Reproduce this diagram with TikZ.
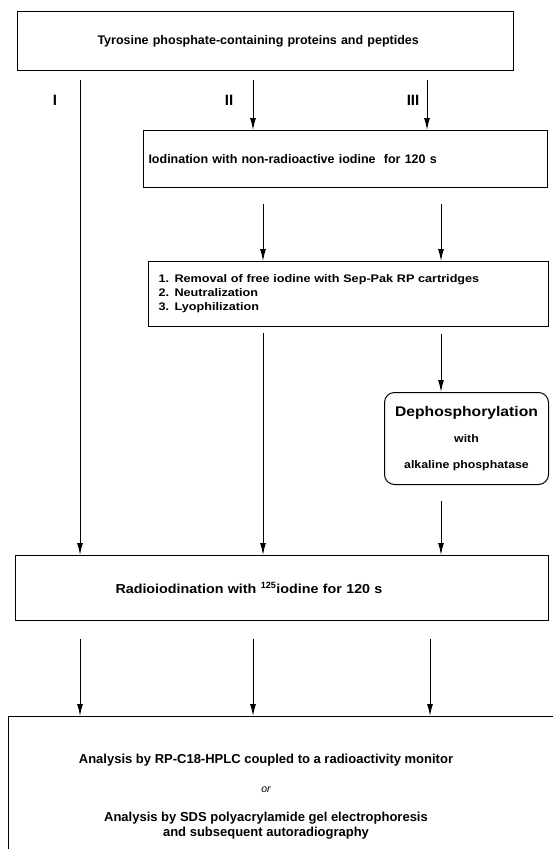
\documentclass[tikz,border=0pt]{standalone}
\usepackage{fontspec}
\setmainfont{Liberation Sans}
\usetikzlibrary{arrows.meta, positioning}

\begin{document}
\begin{tikzpicture}[x=1pt, y=-1pt,
  font=\bfseries\fontsize{12.5}{15}\selectfont,
  % step = plain rectangle, placed by its top left corner
  stepbox/.style={rectangle, draw=black, line width=1pt, anchor=north west, inner sep=0pt},
  % enzyme step = rounded rectangle
  enzbox/.style={stepbox, rounded corners=10pt, align=center},
  lane/.style={font=\bfseries\fontsize{15}{15}\selectfont},
  arrow/.style={line width=1pt, -{Latex[length=12pt, width=6pt]}}
]
\useasboundingbox (0,0) rectangle (552,849);

% ---- Column positions ----
\coordinate (colI) at (80,0);
\coordinate (colII) at (253,0);
\coordinate (colIIb) at (263,0);
\coordinate (colIII) at (427,0);
\coordinate (colIIIb) at (441,0);

% ---- Steps ----
\node[stepbox, minimum width=496pt, minimum height=59pt, text width=336pt, inner xsep=80pt, align=left] (src) at (17,11)
  {Tyrosine phosphate-containing proteins and peptides};
\node[stepbox, minimum width=404pt, minimum height=57pt, text width=394pt, inner xsep=5pt, align=left] (iod) at (143,130)
  {Iodination with non-radioactive iodine\ \ for 120 s};
\node[stepbox, minimum width=400pt, minimum height=65pt, text width=380pt, inner xsep=10pt, align=left,
  font=\bfseries\fontsize{11}{14}\selectfont\addfontfeatures{FakeStretch=1.15}] (rem) at (148,261)
  {1. Removal of free iodine with Sep-Pak RP cartridges\\2. Neutralization\\3. Lyophilization};
\node[enzbox, minimum width=164pt, minimum height=92pt,
  font=\bfseries\fontsize{11}{14}\selectfont\addfontfeatures{FakeStretch=1.12}] (dephos) at (384,392)
  {{\fontsize{14}{15}\selectfont Dephosphorylation}\\[12pt]with\\[12pt]alkaline phosphatase};
\node[stepbox, minimum width=533pt, minimum height=65pt, text width=333pt, inner xsep=100pt, align=left,
  font=\bfseries\fontsize{13}{15}\selectfont\addfontfeatures{FakeStretch=1.1}] (radio) at (15,555)
  {Radioiodination with $^{\mathbf{125}}$iodine for 120 s};
\node[stepbox, minimum width=600pt, minimum height=200pt] (anal) at (8,716) {};
\node[align=center, anchor=north, font=\bfseries\fontsize{13}{15}\selectfont] (analtext) at (266,751)
  {Analysis by RP-C18-HPLC coupled to a radioactivity monitor\\[14pt]
   {\mdseries\itshape\fontsize{10.5}{14}\selectfont or}\\[14pt]
   Analysis by SDS polyacrylamide gel electrophoresis\\and subsequent autoradiography};

% ---- Lane labels ----
\node[lane] (lI) at (55,100) {I};
\node[lane] (lII) at (229,100) {II};
\node[lane] (lIII) at (413,100) {III};

% ---- Lane I ----
\draw[arrow, shorten <=9pt] (src.south -| colI) -- (radio.north -| colI);

% ---- Lane II ----
\draw[arrow, shorten <=9pt] (src.south -| colII) -- (iod.north -| colII);
\draw[arrow, shorten <=16pt] (iod.south -| colIIb) -- (rem.north -| colIIb);
\draw[arrow, shorten <=6pt] (rem.south -| colIIb) -- (radio.north -| colIIb);

% ---- Lane III ----
\draw[arrow, shorten <=9pt] (src.south -| colIII) -- (iod.north -| colIII);
\draw[arrow, shorten <=16pt] (iod.south -| colIIIb) -- (rem.north -| colIIIb);
\draw[arrow, shorten <=7pt] (rem.south -| colIIIb) -- (dephos.north -| colIIIb);
\draw[arrow, shorten <=16pt] (dephos.south -| colIIIb) -- (radio.north -| colIIIb);

% ---- To analysis ----
\draw[arrow, shorten <=18pt] (radio.south -| colI) -- (anal.north -| colI);
\draw[arrow, shorten <=18pt] (radio.south -| colII) -- (anal.north -| colII);
\draw[arrow, shorten <=18pt] ([xshift=3pt]radio.south -| colIII) -- ([xshift=3pt]anal.north -| colIII);

\end{tikzpicture}
\end{document}
